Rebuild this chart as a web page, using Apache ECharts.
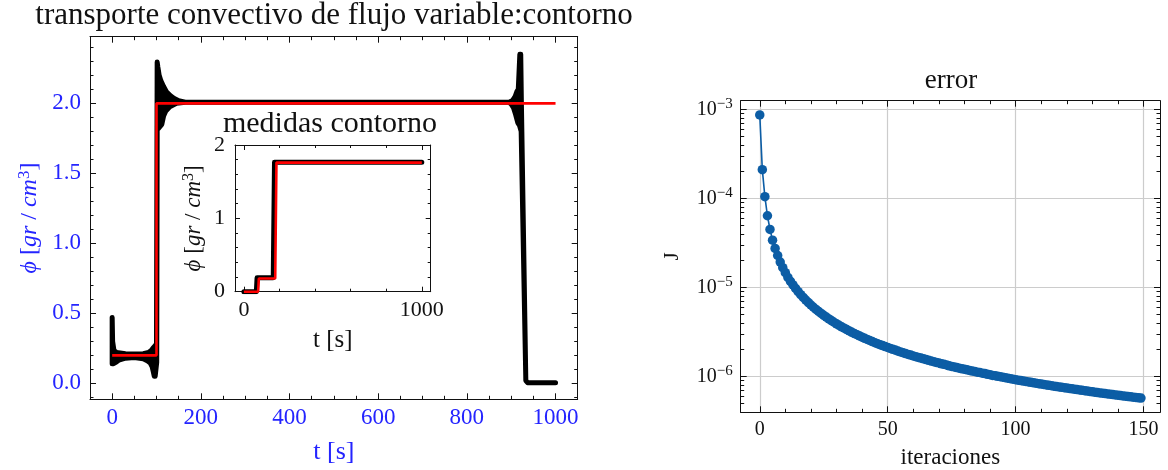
<!DOCTYPE html>
<html>
<head>
<meta charset="utf-8">
<script src="https://cdn.jsdelivr.net/npm/echarts@6/dist/echarts.min.js"></script>
<style>
  html, body { margin: 0; padding: 0; background: #fff; }
  #chart { width: 1168px; height: 470px; }
</style>
</head>
<body>
<div id="chart"></div>
<script>
// ---------- transporte convectivo: solución numérica (envolvente) ----------
// upper edge of the oscillating numerical solution, t ascending
const solUpperT = [0, 1, 4, 10, 30, 50, 70, 82, 88, 93, 97, 100, 101.5, 103, 106, 110, 116, 123, 131, 140, 150, 165,
  895, 903, 909, 913, 916, 919.5, 921.5, 923, 933, 937, 1000];
const solUpperPhi = [0.47, 0.30, 0.235, 0.22, 0.212, 0.21, 0.212, 0.22, 0.235, 0.255, 0.27, 0.28, 2.295, 2.26, 2.2, 2.16, 2.12, 2.08, 2.055, 2.035, 2.018, 2.008,
  2.008, 2.02, 2.05, 2.085, 2.1, 2.35, 2.35, 2.0, 0.02, 0.005, 0.005];
// lower edge of the oscillating numerical solution, t descending
const solLowerT = [1000, 937, 933, 922.5, 919, 915, 910, 905, 900, 895, 165, 145, 130, 121, 116, 112, 104, 101.5,
  100.5, 97, 95, 93, 90, 86, 80, 70, 50, 30, 15, 8, 3, 0];
const solLowerPhi = [0.005, 0.005, 0.02, 1.8, 1.84, 1.86, 1.92, 1.97, 1.995, 2.008, 2.008, 2.0, 1.975, 1.945, 1.91, 1.85, 1.82, 1.82,
  0.15, 0.05, 0.05, 0.08, 0.12, 0.145, 0.16, 0.175, 0.185, 0.18, 0.165, 0.15, 0.14, 0.14];

// reference profile (red)
const refT = [0, 100, 100, 1000];
const refPhi = [0.2, 0.2, 2.0, 2.0];

// ---------- medidas contorno (inset) ----------
const measT = [0, 70, 74, 165, 172, 1000];
const measPhi = [0, 0, 0.19, 0.19, 1.765, 1.765];
const bcT = [0, 80, 84, 176, 183, 1000];
const bcPhi = [0, 0, 0.18, 0.18, 1.76, 1.76];

// ---------- error J por iteración (unidades de 1e-6) ----------
const errorMicro = [
  870, 211, 105, 64, 45, 34, 27.5, 22.9, 19.3, 16.7,
  14.7, 13.0, 11.7, 10.7, 9.76, 8.99, 8.32, 7.73, 7.22, 6.77,
  6.36, 6.00, 5.68, 5.38, 5.11, 4.87, 4.65, 4.44, 4.25, 4.07,
  3.91, 3.76, 3.62, 3.49, 3.37, 3.25, 3.14, 3.04, 2.95, 2.86,
  2.77, 2.69, 2.61, 2.54, 2.47, 2.40, 2.34, 2.28, 2.23, 2.17,
  2.12, 2.07, 2.02, 1.98, 1.93, 1.89, 1.85, 1.81, 1.77, 1.74,
  1.70, 1.67, 1.64, 1.61, 1.58, 1.55, 1.52, 1.49, 1.47, 1.44,
  1.42, 1.39, 1.37, 1.35, 1.32, 1.30, 1.28, 1.26, 1.24, 1.22,
  1.21, 1.19, 1.17, 1.15, 1.14, 1.12, 1.11, 1.09, 1.08, 1.06,
  1.05, 1.03, 1.02, 1.006, 0.994, 0.981, 0.969, 0.957, 0.945, 0.934,
  0.922, 0.911, 0.901, 0.890, 0.880, 0.870, 0.860, 0.850, 0.841, 0.832,
  0.823, 0.814, 0.805, 0.797, 0.788, 0.780, 0.772, 0.764, 0.756, 0.749,
  0.741, 0.734, 0.727, 0.720, 0.713, 0.706, 0.699, 0.692, 0.686, 0.680,
  0.673, 0.667, 0.661, 0.655, 0.649, 0.643, 0.638, 0.632, 0.627, 0.621,
  0.616, 0.611, 0.606, 0.601, 0.596, 0.591, 0.586, 0.581, 0.576, 0.572
];

// ---------- tick positions ----------
const mainXMajor = [0, 200, 400, 600, 800, 1000];
const mainXMinor = [50, 100, 150, 250, 300, 350, 450, 500, 550, 650, 700, 750, 850, 900, 950];
const mainYMajor = [0, 0.5, 1.0, 1.5, 2.0];
const mainYMinor = [-0.1, 0.1, 0.2, 0.3, 0.4, 0.6, 0.7, 0.8, 0.9, 1.1, 1.2, 1.3, 1.4, 1.6, 1.7, 1.8, 1.9, 2.1, 2.2, 2.3, 2.4];
const insetXMajor = [0, 1000];
const insetXMinor = [200, 400, 600, 800];
const insetYMajor = [0, 1, 2];
const insetYMinor = [0.2, 0.4, 0.6, 0.8, 1.2, 1.4, 1.6, 1.8];
const errXMajor = [0, 50, 100, 150];
const errXMinor = [10, 20, 30, 40, 60, 70, 80, 90, 110, 120, 130, 140];
const errYMajor = [1e-6, 1e-5, 1e-4, 1e-3];
const errYMinor = [4e-7, 5e-7, 6e-7, 7e-7, 8e-7, 9e-7,
  2e-6, 3e-6, 4e-6, 5e-6, 6e-6, 7e-6, 8e-6, 9e-6,
  2e-5, 3e-5, 4e-5, 5e-5, 6e-5, 7e-5, 8e-5, 9e-5,
  2e-4, 3e-4, 4e-4, 5e-4, 6e-4, 7e-4, 8e-4, 9e-4];

const FONT = "'Liberation Serif', 'DejaVu Serif', serif";
const BLUE = '#2424ff';
const INK = '#111111';
const plain = v => String(v);

// four axes per dimension: labelled side + minor ticks, opposite side + minor ticks
function boxAxes(dim, gridIndex, cfg) {
  const sides = dim === 'x' ? ['bottom', 'top'] : ['left', 'right'];
  const tickLine = { color: INK, width: 1 };
  const axes = [];
  sides.forEach((pos, si) => {
    const base = { type: cfg.type || 'value', gridIndex, min: cfg.min, max: cfg.max, position: pos, silent: true };
    if (cfg.type === 'log') base.logBase = 10;
    const major = Object.assign({}, base, {
      axisLine: { show: true, onZero: false, lineStyle: { color: INK, width: 1 } },
      axisTick: { show: true, inside: true, length: cfg.majorLen, customValues: cfg.major, lineStyle: tickLine },
      axisLabel: si === 0 ? Object.assign({ show: true, customValues: cfg.major }, cfg.label) : { show: false },
      splitLine: (si === 0 && cfg.split) ? { show: true, lineStyle: cfg.split } : { show: false },
      minorTick: { show: false }
    });
    if (si === 0 && cfg.name) {
      major.name = cfg.name;
      major.nameLocation = 'middle';
      major.nameGap = cfg.nameGap;
      major.nameTextStyle = cfg.nameStyle;
    }
    axes.push(major);
    axes.push(Object.assign({}, base, {
      axisLine: { show: false, onZero: false },
      axisTick: { show: true, inside: true, length: cfg.minorLen, customValues: cfg.minor, lineStyle: tickLine },
      axisLabel: { show: false },
      splitLine: { show: false },
      minorTick: { show: false }
    }));
  });
  return axes;
}

const phiName = '{i|ϕ} [{i|gr} / {i|cm}{s|3}]';
function phiNameStyle(color, size) {
  return {
    color, fontFamily: FONT, fontSize: size,
    rich: {
      i: { fontStyle: 'italic', fontFamily: FONT, fontSize: size, color },
      s: { fontFamily: FONT, fontSize: Math.round(size * 0.7), color, padding: [0, 0, Math.round(size * 0.45), 0] }
    }
  };
}

const xAxes = [].concat(
  boxAxes('x', 0, {
    min: -50, max: 1050, major: mainXMajor, minor: mainXMinor, majorLen: 6, minorLen: 3.5,
    label: { color: BLUE, fontFamily: FONT, fontSize: 23, margin: 7, formatter: plain },
    name: 't [s]', nameGap: 40, nameStyle: { color: BLUE, fontFamily: FONT, fontSize: 26 }
  }),
  boxAxes('x', 1, {
    min: -50, max: 1050, major: insetXMajor, minor: insetXMinor, majorLen: 5, minorLen: 3,
    label: { color: INK, fontFamily: FONT, fontSize: 22, margin: 8, formatter: plain },
    name: 't [s]', nameGap: 36, nameStyle: { color: INK, fontFamily: FONT, fontSize: 25 }
  }),
  boxAxes('x', 2, {
    min: -7.45, max: 156.45, major: errXMajor, minor: errXMinor, majorLen: 6, minorLen: 3.5,
    label: { color: INK, fontFamily: FONT, fontSize: 20, margin: 7, formatter: plain },
    split: { color: '#cccccc', width: 1.2 },
    name: 'iteraciones', nameGap: 34, nameStyle: { color: INK, fontFamily: FONT, fontSize: 23 }
  })
);

const yAxes = [].concat(
  boxAxes('y', 0, {
    min: -0.114, max: 2.476, major: mainYMajor, minor: mainYMinor, majorLen: 6, minorLen: 3.5,
    label: { color: BLUE, fontFamily: FONT, fontSize: 23, margin: 9, formatter: v => v.toFixed(1) },
    name: phiName, nameGap: 46, nameStyle: phiNameStyle(BLUE, 24)
  }),
  boxAxes('y', 1, {
    min: 0, max: 2, major: insetYMajor, minor: insetYMinor, majorLen: 5, minorLen: 3,
    label: { color: INK, fontFamily: FONT, fontSize: 22, margin: 10, formatter: plain },
    name: phiName, nameGap: 28, nameStyle: phiNameStyle(INK, 23)
  }),
  boxAxes('y', 2, {
    type: 'log', min: 3.963e-7, max: 1.256e-3, major: errYMajor, minor: errYMinor, majorLen: 6, minorLen: 3.5,
    label: {
      color: INK, fontFamily: FONT, fontSize: 20, margin: 8,
      formatter: v => '10{s|−' + Math.round(-Math.log10(v)) + '}',
      rich: { s: { fontFamily: FONT, fontSize: 15, color: INK, padding: [0, 0, 10, 0] } }
    },
    split: { color: '#cccccc', width: 1.2 },
    name: 'J', nameGap: 58, nameStyle: { color: INK, fontFamily: FONT, fontSize: 21 }
  })
);

const outline = solUpperT.map((t, i) => [t, solUpperPhi[i]])
  .concat(solLowerT.map((t, i) => [t, solLowerPhi[i]]));

const chart = echarts.init(document.getElementById('chart'), null, { renderer: 'canvas' });
chart.setOption({
  animation: false,
  backgroundColor: '#ffffff',
  grid: [
    { left: 90, top: 36.7, width: 487.7, height: 362.6, containLabel: false, outerBoundsMode: 'none' },
    { left: 235, top: 145, width: 195.7, height: 146.7, containLabel: false, outerBoundsMode: 'none' },
    { left: 740.7, top: 100.7, width: 419.3, height: 311.6, containLabel: false, outerBoundsMode: 'none' }
  ],
  xAxis: xAxes,
  yAxis: yAxes,
  graphic: [
    { type: 'text', x: 334, y: 16, style: { text: 'transporte convectivo de flujo variable:contorno', font: '31px ' + FONT, fill: INK, align: 'center', verticalAlign: 'middle' } },
    { type: 'text', x: 330, y: 124, style: { text: 'medidas contorno', font: '30px ' + FONT, fill: INK, align: 'center', verticalAlign: 'middle' } },
    { type: 'text', x: 951, y: 81, style: { text: 'error', font: '27px ' + FONT, fill: INK, align: 'center', verticalAlign: 'middle' } }
  ],
  series: [
    {
      type: 'custom', xAxisIndex: 0, yAxisIndex: 0, z: 3, silent: true,
      data: outline,
      renderItem: (params, api) => {
        if (params.dataIndex !== 0) return null;
        const pts = outline.map(p => api.coord(p));
        return { type: 'polygon', shape: { points: pts }, style: { fill: '#000', stroke: '#000', lineWidth: 5, lineJoin: 'round' } };
      }
    },
    {
      type: 'line', xAxisIndex: 0, yAxisIndex: 0, z: 4, silent: true, symbol: 'none',
      data: refT.map((t, i) => [t, refPhi[i]]),
      lineStyle: { color: '#ff0000', width: 2.6 }
    },
    {
      type: 'line', xAxisIndex: 4, yAxisIndex: 4, z: 3, silent: true, symbol: 'none',
      data: measT.map((t, i) => [t, measPhi[i]]),
      lineStyle: { color: '#000', width: 5, cap: 'round', join: 'round' }
    },
    {
      type: 'line', xAxisIndex: 4, yAxisIndex: 4, z: 4, silent: true, symbol: 'none',
      data: bcT.map((t, i) => [t, bcPhi[i]]),
      lineStyle: { color: '#ff0000', width: 2.6 }
    },
    {
      type: 'line', xAxisIndex: 8, yAxisIndex: 8, z: 3, silent: true,
      data: errorMicro.map((v, i) => [i, v * 1e-6]),
      symbol: 'circle', symbolSize: 9.5,
      itemStyle: { color: '#0C5DA5' },
      lineStyle: { color: '#0C5DA5', width: 1.6 }
    }
  ]
});
</script>
</body>
</html>
